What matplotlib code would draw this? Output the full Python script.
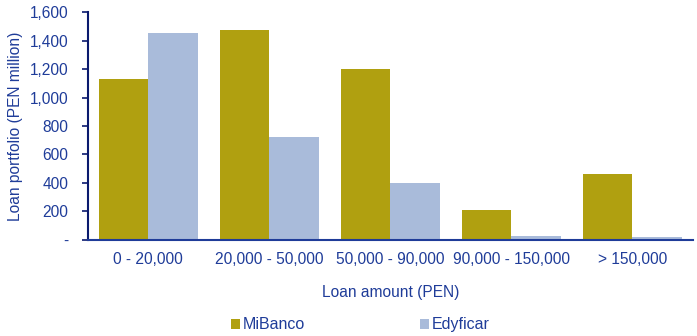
import matplotlib.pyplot as plt
import numpy as np

plt.rcParams['font.family'] = ['Liberation Sans', 'DejaVu Sans']

categories = ["0 - 20,000", "20,000 - 50,000", "50,000 - 90,000", "90,000 - 150,000", "> 150,000"]
mibanco = [1130, 1475, 1200, 210, 463]
edyficar = [1450, 725, 400, 28, 20]
yticks = [0, 200, 400, 600, 800, 1000, 1200, 1400, 1600]
ytick_labels = ["-", "200", "400", "600", "800", "1,000", "1,200", "1,400", "1,600"]

txt = "#1F3C99"
navy = "#0A1A6E"

fig = plt.figure(figsize=(6.97, 3.36), dpi=100)
ax = fig.add_axes([0.126, 0.286, 0.868, 0.678])

x = np.arange(len(categories))
w = 0.41
ax.bar(x - w / 2, mibanco, w, color="#B0A010", label="MiBanco")
ax.bar(x + w / 2, edyficar, w, color="#A9BBDA", label="Edyficar")

ax.set_xlim(-0.5, len(categories) - 0.5)
ax.set_ylim(0, 1600)
ax.set_yticks(yticks)
ax.set_yticklabels(ytick_labels)
ax.set_xticks(x)
ax.set_xticklabels(categories)

ax.tick_params(axis="y", colors=navy, labelcolor=txt, labelsize=11.2, length=4, width=1.2, pad=10)
ax.tick_params(axis="x", length=0, labelcolor=txt, labelsize=11.2, pad=9)
for s in ["top", "right"]:
    ax.spines[s].set_visible(False)
ax.spines["left"].set_color(navy)
ax.spines["left"].set_linewidth(1.5)
ax.spines["bottom"].set_color("#1F3C99")
ax.spines["bottom"].set_linewidth(1.5)

ax.set_ylabel("Loan portfolio (PEN million)", color=txt, fontsize=11.2, labelpad=5)
ax.set_xlabel("Loan amount (PEN)", color=txt, fontsize=11.2, labelpad=13)

leg = fig.legend(loc="lower center", bbox_to_anchor=(0.517, -0.032), ncol=2, frameon=False,
                 fontsize=11.5, handlelength=0.56, handleheight=0.56, handletextpad=0.2,
                 columnspacing=7.2)
for t in leg.get_texts():
    t.set_color(txt)

fig.savefig("out.png", dpi=100)
